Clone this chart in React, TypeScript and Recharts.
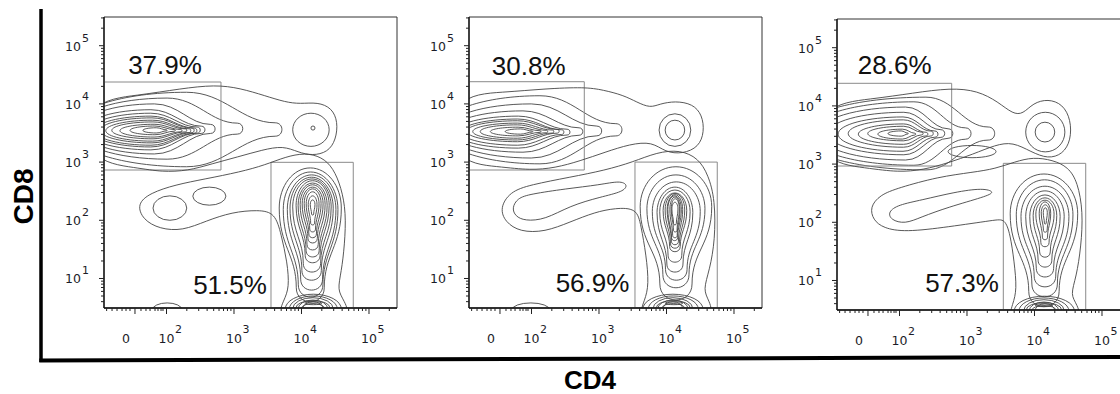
import React from "react";
import { ComposedChart, XAxis, YAxis, Line, ReferenceArea, ReferenceDot } from "recharts";

// boxes are [xFrom, xTo, yLow, yHigh] in decades (10^n -> n), loops are [x, y] points
type Box = [number, number, number, number];
type Pt = [number, number];

const xDomain: [number, number] = [1.074, 5.415];
const yDomain: [number, number] = [0.493, 5.493];

const xMajor = [1.533, 2, 3, 4, 5];
const xMajorText = ["0", "2", "3", "4", "5"];
const xBiexMinor = [1.113, 1.193, 1.267, 1.341, 1.4, 1.459, 1.622, 1.696, 1.756, 1.83, 1.874, 1.919, 1.948];
const yMajor = [1, 2, 3, 4, 5];
const minorSteps = [2, 3, 4, 5, 6, 7, 8, 9];

// ---------- panel 1 ----------
const p1Cd8: Box[] = [
  [1.65, 2.01, 3.5, 3.59], [1.46, 2.13, 3.47, 3.62], [1.31, 2.23, 3.43, 3.65], [1.19, 2.3, 3.4, 3.69],
  [1.1, 2.36, 3.36, 3.72], [1.02, 2.41, 3.33, 3.76], [0.94, 2.45, 3.29, 3.79], [0.87, 2.5, 3.26, 3.84],
  [0.79, 2.57, 3.21, 3.9], [0.72, 2.72, 3.14, 4.0], [0.64, 3.13, 3.05, 4.1], [0.57, 3.71, 2.92, 4.2],
];
const p1Cd4: Box[] = [
  [4.13, 4.2, 2.09, 2.35], [4.1, 4.23, 1.92, 2.42], [4.07, 4.26, 1.8, 2.49], [4.04, 4.29, 1.7, 2.54],
  [4.01, 4.32, 1.61, 2.57], [3.98, 4.35, 1.49, 2.61], [3.95, 4.38, 1.37, 2.64], [3.92, 4.41, 1.27, 2.68],
  [3.87, 4.44, 1.11, 2.71], [3.83, 4.47, 0.97, 2.74], [3.79, 4.51, 0.8, 2.78], [3.73, 4.54, 0.68, 2.83],
  [3.67, 4.59, 0.6, 2.9],
];
const p1Dp: Box[] = [[3.87, 4.41, 3.27, 3.84], [4.14, 4.2, 3.55, 3.62]];
const p1Blobs: Box[] = [[1.8, 2.3, 2.0, 2.42], [2.39, 2.88, 2.26, 2.57]];
const p1Base: Box[] = [
  [4.02, 4.32, 0.36, 0.6], [3.95, 4.39, 0.32, 0.63], [3.87, 4.47, 0.29, 0.67], [3.82, 4.53, 0.25, 0.7],
  [3.76, 4.59, 0.22, 0.73], [4.05, 4.3, 0.55, 0.6], [4.0, 4.34, 0.4, 0.57], [3.92, 4.42, 0.38, 0.62],
  [1.79, 2.23, 0.34, 0.58],
];
const p1OuterA: Pt[] = [
  [0.8, 4.05], [1.61, 4.15], [2.2, 4.26], [2.72, 4.33], [3.09, 4.27], [3.46, 4.14], [3.76, 4.03], [3.98, 4.0],
  [4.24, 4.03], [4.45, 3.93], [4.54, 3.69], [4.51, 3.38], [4.39, 3.17], [4.16, 3.11], [3.95, 3.17], [3.73, 3.28],
  [3.42, 3.21], [3.06, 3.09], [2.67, 2.97], [2.32, 2.85], [1.93, 2.83], [1.58, 2.9], [0.8, 3.02],
];
const p1OuterB: Pt[] = [
  [1.56, 2.28], [1.76, 2.47], [2.13, 2.61], [2.57, 2.71], [3.09, 2.83], [3.46, 2.95], [3.76, 3.09], [4.05, 3.16],
  [4.3, 3.09], [4.47, 2.9], [4.59, 2.56], [4.66, 2.14], [4.64, 1.58], [4.59, 1.11], [4.53, 0.8], [4.63, 0.63],
  [4.75, 0.3], [4.16, 0.15], [3.62, 0.3], [3.74, 0.63], [3.82, 0.84], [3.79, 1.28], [3.7, 1.75], [3.61, 2.13],
  [3.36, 2.18], [2.97, 2.14], [2.59, 1.99], [2.24, 1.82], [1.9, 1.85], [1.65, 2.01],
];
const p1Gates: Box[] = [[1.074, 2.807, 2.864, 4.376], [3.548, 4.767, 0.493, 2.996]];
const p1Pct = ["37.9%", "51.5%"];
const p1PctPos: Pt[] = [[1.978, 4.514], [2.941, 0.734]];

// ---------- panel 2 ----------
const p2Cd8: Box[] = [
  [1.61, 2.02, 3.48, 3.57], [1.39, 2.14, 3.45, 3.6], [1.24, 2.24, 3.41, 3.64], [1.13, 2.33, 3.38, 3.67],
  [1.04, 2.41, 3.35, 3.71], [0.96, 2.48, 3.29, 3.74], [0.87, 2.57, 3.24, 3.79], [0.79, 2.76, 3.17, 3.88],
  [0.72, 3.04, 3.07, 4.0], [0.64, 3.34, 2.97, 4.14],
];
const p2Cd4: Box[] = [
  [4.08, 4.17, 1.92, 2.31], [4.07, 4.19, 1.8, 2.37], [4.05, 4.2, 1.7, 2.4], [4.02, 4.22, 1.65, 2.42],
  [4.01, 4.24, 1.58, 2.44], [3.98, 4.27, 1.52, 2.46], [3.95, 4.3, 1.46, 2.47], [3.9, 4.35, 1.28, 2.52],
  [3.86, 4.39, 1.11, 2.57], [3.79, 4.5, 0.97, 2.66], [3.71, 4.57, 0.84, 2.78], [3.61, 4.67, 0.63, 2.92],
];
const p2Dp: Box[] = [[3.98, 4.27, 3.38, 3.72], [3.89, 4.36, 3.27, 3.83]];
const p2DnInner: Pt[] = [
  [1.71, 2.21], [1.79, 2.38], [1.98, 2.45], [2.5, 2.54], [3.02, 2.61], [3.31, 2.68], [3.43, 2.61],
  [3.36, 2.49], [3.02, 2.4], [2.57, 2.25], [2.2, 2.01], [1.9, 1.99], [1.76, 2.07],
];
const p2Base: Box[] = [
  [3.95, 4.24, 0.36, 0.6], [3.87, 4.32, 0.32, 0.63], [3.8, 4.39, 0.29, 0.67], [3.73, 4.47, 0.25, 0.7],
  [3.65, 4.54, 0.22, 0.73], [3.98, 4.24, 0.55, 0.6], [3.93, 4.27, 0.4, 0.57], [3.85, 4.35, 0.38, 0.62],
  [1.71, 2.27, 0.34, 0.58],
];
const p2OuterA: Pt[] = [
  [0.8, 4.15], [1.61, 4.2], [2.2, 4.26], [2.79, 4.29], [3.06, 4.24], [3.36, 4.15], [3.56, 4.03], [3.76, 3.93],
  [3.9, 4.0], [4.13, 4.05], [4.39, 4.0], [4.53, 3.81], [4.56, 3.52], [4.48, 3.26], [4.24, 3.14], [3.98, 3.17],
  [3.79, 3.35], [3.46, 3.31], [3.09, 3.17], [2.72, 3.02], [2.35, 2.9], [1.98, 2.86], [1.53, 2.92], [0.8, 3.0],
];
const p2OuterB: Pt[] = [
  [1.53, 2.21], [1.68, 2.49], [1.98, 2.61], [2.57, 2.74], [3.09, 2.86], [3.5, 3.0], [3.86, 3.17], [4.2, 3.21],
  [4.47, 3.07], [4.62, 2.78], [4.72, 2.35], [4.72, 1.66], [4.64, 1.15], [4.54, 0.8], [4.63, 0.63], [4.72, 0.3],
  [4.1, 0.15], [3.56, 0.3], [3.68, 0.63], [3.74, 0.89], [3.7, 1.4], [3.62, 1.92], [3.56, 2.21], [3.24, 2.21],
  [2.94, 2.14], [2.57, 1.97], [2.2, 1.8], [1.83, 1.8], [1.61, 1.97],
];
const p2Gates: Box[] = [[1.074, 2.782, 2.864, 4.381], [3.533, 4.752, 0.493, 3.0]];
const p2Pct = ["30.8%", "56.9%"];
const p2PctPos: Pt[] = [[1.959, 4.496], [2.904, 0.768]];

// ---------- panel 3 ----------
const p3Cd8: Box[] = [
  [1.83, 2.13, 3.48, 3.57], [1.68, 2.24, 3.43, 3.6], [1.53, 2.35, 3.4, 3.65], [1.39, 2.42, 3.34, 3.69],
  [1.24, 2.5, 3.29, 3.76], [1.09, 2.57, 3.22, 3.81], [0.94, 2.67, 3.16, 3.89], [0.79, 2.79, 3.07, 3.98],
  [0.64, 3.06, 2.98, 4.07], [0.5, 3.41, 2.9, 4.15],
];
const p3Cd4: Box[] = [
  [4.13, 4.19, 1.97, 2.25], [4.1, 4.22, 1.83, 2.3], [4.07, 4.24, 1.7, 2.35], [4.02, 4.29, 1.58, 2.38],
  [3.98, 4.33, 1.4, 2.42], [3.93, 4.38, 1.23, 2.47], [3.87, 4.44, 1.06, 2.54], [3.8, 4.51, 0.89, 2.62],
  [3.73, 4.57, 0.72, 2.73], [3.64, 4.64, 0.55, 2.83],
];
const p3Dp: Box[] = [[4.01, 4.3, 3.38, 3.72], [3.87, 4.45, 3.21, 3.89]];
const p3Mid: Box[] = [[2.72, 3.43, 3.11, 3.32]];
const p3DnInner: Pt[] = [
  [1.83, 2.18], [1.98, 2.3], [2.32, 2.38], [2.82, 2.52], [3.24, 2.59], [3.42, 2.52], [3.27, 2.44],
  [2.72, 2.26], [2.32, 2.09], [2.08, 1.97], [1.87, 2.04],
];
const p3Base: Box[] = [
  [4.01, 4.3, 0.36, 0.6], [3.92, 4.36, 0.32, 0.63], [3.84, 4.44, 0.29, 0.67], [3.77, 4.51, 0.25, 0.7],
  [3.7, 4.59, 0.22, 0.73], [4.01, 4.27, 0.55, 0.6], [3.96, 4.32, 0.4, 0.57], [3.88, 4.4, 0.38, 0.62],
];
const p3OuterA: Pt[] = [
  [0.8, 4.02], [1.61, 4.12], [2.2, 4.22], [2.76, 4.31], [3.16, 4.26], [3.46, 4.07], [3.68, 3.86], [3.83, 3.86],
  [3.98, 4.05], [4.2, 4.12], [4.42, 4.03], [4.54, 3.76], [4.54, 3.41], [4.42, 3.17], [4.2, 3.09], [3.95, 3.21],
  [3.68, 3.38], [3.42, 3.33], [3.09, 3.17], [2.72, 3.02], [2.35, 2.9], [1.98, 2.86], [1.53, 2.93], [0.8, 3.04],
];
const p3OuterB: Pt[] = [
  [1.56, 2.26], [1.71, 2.47], [1.98, 2.59], [2.57, 2.78], [3.09, 2.86], [3.42, 2.92], [3.71, 3.04], [3.98, 3.12],
  [4.27, 3.07], [4.5, 2.95], [4.64, 2.69], [4.72, 2.18], [4.69, 1.58], [4.62, 1.06], [4.53, 0.75], [4.63, 0.6],
  [4.72, 0.28], [4.14, 0.15], [3.59, 0.28], [3.68, 0.6], [3.74, 0.84], [3.7, 1.32], [3.64, 1.8], [3.56, 2.06],
  [3.42, 2.04], [2.72, 1.92], [2.08, 1.83], [1.76, 1.9], [1.61, 2.04],
];
const p3Gates: Box[] = [[1.074, 2.773, 2.967, 4.388], [3.538, 4.759, 0.493, 3.013]];
const p3Pct = ["28.6%", "57.3%"];
const p3PctPos: Pt[] = [[1.929, 4.548], [2.926, 0.802]];

const panels = [
  { left: 44, top: 0, cd8: p1Cd8, peak: 0.55, cd4: p1Cd4, rings: [...p1Dp, ...p1Blobs], base: p1Base, loops: [p1OuterA, p1OuterB], gates: p1Gates, pct: p1Pct, pctPos: p1PctPos },
  { left: 409, top: 0, cd8: p2Cd8, peak: 0.55, cd4: p2Cd4, rings: p2Dp, base: p2Base, loops: [p2OuterA, p2OuterB, p2DnInner], gates: p2Gates, pct: p2Pct, pctPos: p2PctPos },
  { left: 777, top: 2, cd8: p3Cd8, peak: 0.65, cd4: p3Cd4, rings: [...p3Dp, ...p3Mid], base: p3Base, loops: [p3OuterA, p3OuterB, p3DnInner], gates: p3Gates, pct: p3Pct, pctPos: p3PctPos },
];

const logMinor = (lo: number, hi: number) => {
  const out: number[] = [];
  for (let n = 0; n <= 5; n++) for (const k of minorSteps) {
    const v = n + Math.log10(k);
    if (v > lo && v < hi) out.push(v);
  }
  return out;
};
const xTicks = [...xBiexMinor, ...xMajor, ...logMinor(2, xDomain[1])];
const yTicks = [...yMajor, ...logMinor(yDomain[0], yDomain[1])];

const LINE = "#454545";
const FONT = "DejaVu Sans, Verdana, sans-serif";
const K = 0.552;

const dropRight = (x: number, y: number, w: number, h: number, p: number, t: number) => {
  const cy = y + h / 2, hx = p * w, q = (t * h) / 2, r = (1 - p) * w;
  const xm = x + hx, xe = x + w - q;
  return `M${x},${cy}C${x},${cy - (K * h) / 2} ${xm - K * hx},${y} ${xm},${y}` +
    `C${xm + 0.4 * r},${y} ${xe - 0.35 * r},${cy - q} ${xe},${cy - q}` +
    `C${xe + 1.33 * q},${cy - q} ${xe + 1.33 * q},${cy + q} ${xe},${cy + q}` +
    `C${xe - 0.35 * r},${cy + q} ${xm + 0.4 * r},${y + h} ${xm},${y + h}` +
    `C${xm - K * hx},${y + h} ${x},${cy + (K * h) / 2} ${x},${cy}Z`;
};

const dropDown = (x: number, y: number, w: number, h: number, p: number, t: number) => {
  const cx = x + w / 2, hy = p * h, q = (t * w) / 2, r = (1 - p) * h;
  const ym = y + hy, ye = y + h - q;
  return `M${cx},${y}C${cx + (K * w) / 2},${y} ${x + w},${ym - K * hy} ${x + w},${ym}` +
    `C${x + w},${ym + 0.4 * r} ${cx + q},${ye - 0.35 * r} ${cx + q},${ye}` +
    `C${cx + q},${ye + 1.33 * q} ${cx - q},${ye + 1.33 * q} ${cx - q},${ye}` +
    `C${cx - q},${ye - 0.35 * r} ${x},${ym + 0.4 * r} ${x},${ym}` +
    `C${x},${ym - K * hy} ${cx - (K * w) / 2},${y} ${cx},${y}Z`;
};

const rightShape = (p: number) => (s: any) => (
  <path d={dropRight(s.x, s.y, s.width, s.height, p, 0.18)} clipPath={s.clipPath} fill="none" stroke={LINE} strokeWidth={0.9} />
);
const downShape = (s: any) => (
  <path d={dropDown(s.x, s.y, s.width, s.height, 0.3, 0.45)} clipPath={s.clipPath} fill="none" stroke={LINE} strokeWidth={0.9} />
);
const ovalShape = (s: any) => (
  <ellipse cx={s.x + s.width / 2} cy={s.y + s.height / 2} rx={s.width / 2} ry={s.height / 2} clipPath={s.clipPath} fill="none" stroke={LINE} strokeWidth={0.9} />
);

const XTick = (props: any) => {
  const { x, y, payload } = props;
  const i = xMajor.indexOf(payload.value);
  if (i < 0) return <line x1={x} y1={y} x2={x} y2={y + 3} stroke="#222" />;
  const e = xMajorText[i];
  return (
    <g>
      <line x1={x} y1={y} x2={x} y2={y + 6} stroke="#222" />
      {e === "0" ? (
        <text x={x - 9} y={y + 35} textAnchor="middle" fontSize={12.5} fontFamily={FONT} fill="#1c1c28">0</text>
      ) : (
        <g fontFamily={FONT} fill="#1c1c28">
          <text x={x} y={y + 35} textAnchor="middle" fontSize={12.5}>10</text>
          <text x={x + 8.5} y={y + 25} fontSize={11}>{e}</text>
        </g>
      )}
    </g>
  );
};

const YTick = (props: any) => {
  const { x, y, payload } = props;
  const v = payload.value;
  if (!yMajor.includes(v)) return <line x1={x - 3} y1={y} x2={x} y2={y} stroke="#222" />;
  return (
    <g fontFamily={FONT} fill="#1c1c28">
      <line x1={x - 5} y1={y} x2={x} y2={y} stroke="#222" />
      <text x={x - 23} y={y + 5} textAnchor="end" fontSize={12.5}>10</text>
      <text x={x - 22} y={y - 4} fontSize={11}>{String(v)}</text>
    </g>
  );
};

function Panel({ cfg }: { cfg: (typeof panels)[number] }) {
  const area = (b: Box, key: string, shape: any) => (
    <ReferenceArea key={key} x1={b[0]} x2={b[1]} y1={b[2]} y2={b[3]} ifOverflow="hidden" shape={shape} />
  );
  return (
    <div style={{ position: "absolute", left: cfg.left, top: cfg.top }}>
      <ComposedChart width={363} height={358} margin={{ top: 17, right: 10, bottom: 0, left: 0 }}>
        <XAxis type="number" dataKey="x" domain={xDomain} allowDataOverflow ticks={xTicks} interval={0}
          tick={XTick} tickLine={false} tickSize={0} tickMargin={0} height={50}
          axisLine={{ stroke: "#111", strokeWidth: 1.3 }} />
        <YAxis type="number" domain={yDomain} allowDataOverflow ticks={yTicks} interval={0}
          tick={YTick} tickLine={false} tickSize={0} tickMargin={0} width={60}
          axisLine={{ stroke: "#111", strokeWidth: 1.3 }} />
        <ReferenceArea x1={xDomain[0]} x2={xDomain[1]} y1={yDomain[0]} y2={yDomain[1]} fill="none" stroke="#333" strokeWidth={1} fillOpacity={0} />
        {cfg.cd8.map((b, i) => area(b, "cd8" + i, rightShape(cfg.peak)))}
        {cfg.cd4.map((b, i) => area(b, "cd4" + i, downShape))}
        {cfg.rings.map((b, i) => area(b, "ring" + i, ovalShape))}
        {cfg.base.map((b, i) => area(b, "base" + i, ovalShape))}
        {cfg.loops.map((pts, i) => (
          <Line key={"loop" + i} data={pts.map(([x, y]) => ({ x, y }))} dataKey="y" type="basisClosed"
            stroke={LINE} strokeWidth={0.9} dot={false} activeDot={false} isAnimationActive={false} legendType="none" />
        ))}
        {cfg.gates.map((b, i) => (
          <ReferenceArea key={"gate" + i} x1={b[0]} x2={b[1]} y1={b[2]} y2={b[3]} ifOverflow="hidden"
            fill="none" fillOpacity={0} stroke="#8a8a8a" strokeWidth={1} />
        ))}
        {cfg.pct.map((t, i) => (
          <ReferenceDot key={"pct" + i} x={cfg.pctPos[i][0]} y={cfg.pctPos[i][1]} r={0}
            shape={(s: any) => (
              <text x={s.cx} y={s.cy} textAnchor="middle" fontSize={26}
                fontFamily="Liberation Sans, Arial, sans-serif" fill="#111">{t}</text>
            )} />
        ))}
      </ComposedChart>
    </div>
  );
}

export default function App() {
  return (
    <div style={{ position: "fixed", left: 0, top: 0, width: 1120, height: 394, overflow: "hidden", background: "#fff" }}>
      {panels.map((cfg, i) => <Panel key={i} cfg={cfg} />)}
      <svg width={1120} height={394} style={{ position: "absolute", left: 0, top: 0, pointerEvents: "none" }}>
        <line x1={41} y1={9} x2={41} y2={362} stroke="#000" strokeWidth={3.5} />
        <line x1={39.3} y1={360.5} x2={1120} y2={357} stroke="#000" strokeWidth={4} />
        <text transform="translate(33,196.5) rotate(-90)" textAnchor="middle" fontSize={28} fontWeight="bold"
          fontFamily="Liberation Sans, Arial, sans-serif" fill="#000">CD8</text>
        <text x={590} y={389} textAnchor="middle" fontSize={26} fontWeight="bold"
          fontFamily="Liberation Sans, Arial, sans-serif" fill="#000">CD4</text>
      </svg>
    </div>
  );
}
